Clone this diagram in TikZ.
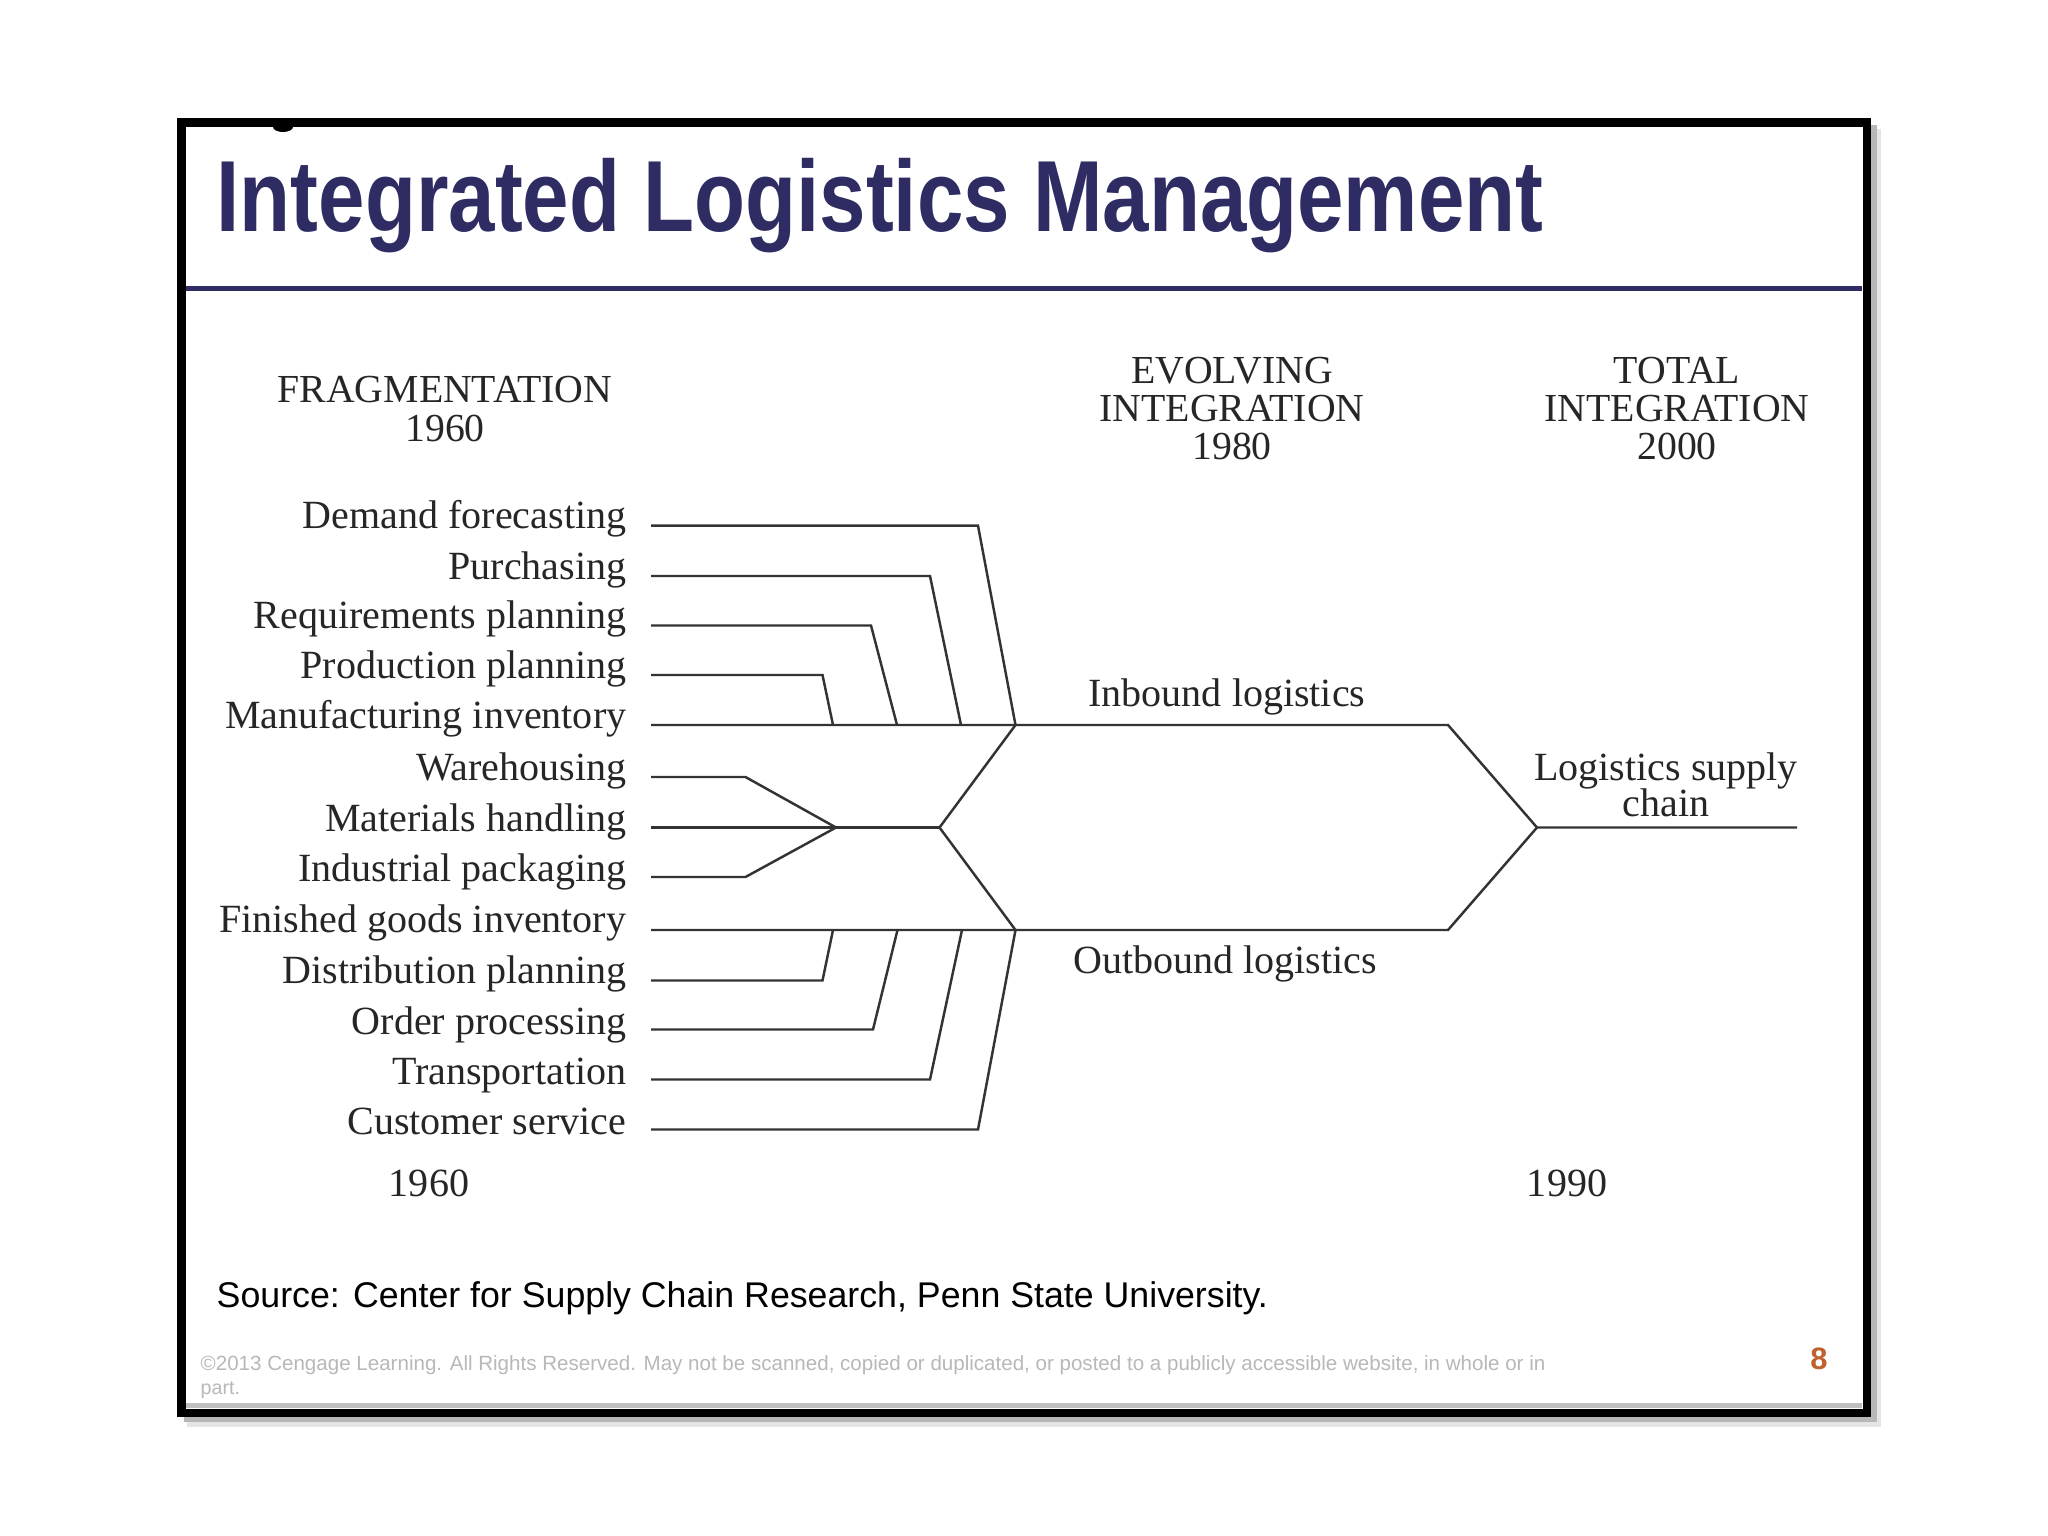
\documentclass[tikz,border=0pt]{standalone}
\usepackage{fontspec}
\usepackage{graphicx}
\setmainfont{Liberation Serif}
\newfontfamily\sansfont{Liberation Sans}
\definecolor{navy}{HTML}{2E2C62}
\definecolor{pageorange}{HTML}{C0602E}
\definecolor{linegray}{HTML}{333333}
\begin{document}
\begin{tikzpicture}[x=0.01cm,y=-0.01cm,
  lbl/.style={anchor=base east,inner sep=0pt,font=\fontsize{11.38pt}{13pt}\selectfont,text=black!85},
  mid/.style={anchor=base,inner sep=0pt,font=\fontsize{11.38pt}{13pt}\selectfont,text=black!85},
  hdr/.style={anchor=base,inner sep=0pt,font=\fontsize{11.3pt}{13pt}\selectfont,text=black!85},
  conn/.style={draw=linegray,line width=0.7pt,line join=miter},
]
\useasboundingbox[fill=white] (0,0) rectangle (2048,1536);
% shadow
\fill[black!10] (187,129) rectangle (1881,1427);
\fill[black!28] (184,125) rectangle (1877,1422);
% frame
\draw[line width=2.42pt,fill=white] (181.25,122.75) rectangle (1866.75,1412.75);
\fill (283,127) ellipse [x radius=10,y radius=5];
\draw[black!25,line width=1.4pt] (186,1405.5) -- (1862,1405.5);
% title
\node[anchor=base west,inner sep=0pt,text=navy,font=\sansfont\bfseries\fontsize{28.74pt}{30pt}\selectfont] (title) at (216,231.7) {\scalebox{0.826}[1]{Integrated Logistics Management}};
\draw[navy,line width=1.7pt] (186,288.5) -- (1862,288.5);
% headers
\node[hdr] (h1a) at (445,402) {FRAGMENTATION};
\node[hdr] (h1b) at (445,441) {1960};
\node[hdr] (h2a) at (1232,383.5) {EVOLVING};
\node[hdr] (h2b) at (1232,421) {INTEGRATION};
\node[hdr] (h2c) at (1232,459) {1980};
\node[hdr] (h3a) at (1677,383.5) {TOTAL};
\node[hdr] (h3b) at (1677,421) {INTEGRATION};
\node[hdr] (h3c) at (1677,459) {2000};
% left labels
\node[lbl] (l0) at (627,528.5) {Demand forecasting};
\node[lbl] (l1) at (627,579) {Purchasing};
\node[lbl] (l2) at (627,628.5) {Requirements planning};
\node[lbl] (l3) at (627,678) {Production planning};
\node[lbl] (l4) at (627,728.5) {Manufacturing inventory};
\node[lbl] (l5) at (627,780.5) {Warehousing};
\node[lbl] (l6) at (627,831) {Materials handling};
\node[lbl] (l7) at (627,881) {Industrial packaging};
\node[lbl] (l8) at (627,932.5) {Finished goods inventory};
\node[lbl] (l9) at (627,983.5) {Distribution planning};
\node[lbl] (l10) at (627,1034) {Order processing};
\node[lbl] (l11) at (627,1084) {Transportation};
\node[lbl] (l12) at (627,1134) {Customer service};
% line starts
\coordinate (s0) at (651,525.7);
\coordinate (s1) at (651,576);
\coordinate (s2) at (651,625.5);
\coordinate (s3) at (651,675);
\coordinate (s4) at (651,725);
\coordinate (s5) at (651,777);
\coordinate (s6) at (651,827.5);
\coordinate (s7) at (651,877);
\coordinate (s8) at (651,930);
\coordinate (s9) at (651,980.5);
\coordinate (s10) at (651,1029.5);
\coordinate (s11) at (651,1079.5);
\coordinate (s12) at (651,1129.5);
% junctions
\coordinate (inJ) at (1015.5,725);
\coordinate (outJ) at (1015.5,930);
\coordinate (midJ) at (939.5,827.5);
\coordinate (apex3) at (836,827.5);
\coordinate (inR) at (1448,725);
\coordinate (outR) at (1448,930);
\coordinate (lscA) at (1537,827.5);
\coordinate (lscE) at (1797,827.5);
% inbound connectors
\draw[conn] (s0) -- (978,525.7) -- (inJ);
\draw[conn] (s1) -- (930,576) -- (961,725);
\draw[conn] (s2) -- (871,625.5) -- (897,725);
\draw[conn] (s3) -- (822.5,675) -- (833,725);
\draw[conn] (s4) -- (inR) -- (lscA) -- (lscE);
% middle
\draw[conn] (s5) -- (745.5,777) -- (apex3);
\draw[conn] (s7) -- (745.5,877) -- (apex3);
\draw[conn] (s6) -- (midJ);
\draw[conn] (inJ) -- (midJ) -- (outJ);
% outbound connectors
\draw[conn] (s8) -- (outR) -- (lscA);
\draw[conn] (s9) -- (822.5,980.5) -- (833,930);
\draw[conn] (s10) -- (873,1029.5) -- (897.5,930);
\draw[conn] (s11) -- (930,1079.5) -- (962,930);
\draw[conn] (s12) -- (978,1129.5) -- (outJ);
% mid labels
\node[mid] (inb) at (1227,706.5) {Inbound logistics};
\node[mid] (outb) at (1225,973) {Outbound logistics};
\node[mid] (lsc1) at (1666,780) {Logistics supply};
\node[mid] (lsc2) at (1666,816) {chain};
\node[mid] (y1960) at (429,1196) {1960};
\node[mid] (y1990) at (1567,1196) {1990};
% footer
\node[anchor=base west,inner sep=0pt,font=\sansfont\fontsize{10.16pt}{12pt}\selectfont] (src) at (216,1307) {Source: Center for Supply Chain Research, Penn State University.};
\node[anchor=base west,inner sep=0pt,text=black!28,font=\sansfont\fontsize{5.6pt}{7pt}\selectfont] (copy1) at (200,1370) {\resizebox{13.44cm}{!}{©2013 Cengage Learning. All Rights Reserved. May not be scanned, copied or duplicated, or posted to a publicly accessible website, in whole or in}};
\node[anchor=base west,inner sep=0pt,text=black!28,font=\sansfont\fontsize{5.6pt}{7pt}\selectfont] (copy2) at (200,1394) {part.};
\node[anchor=center,inner sep=0pt,text=pageorange,font=\sansfont\bfseries\fontsize{8.8pt}{10pt}\selectfont] (pg) at (1819,1359) {8};
\end{tikzpicture}
\end{document}
